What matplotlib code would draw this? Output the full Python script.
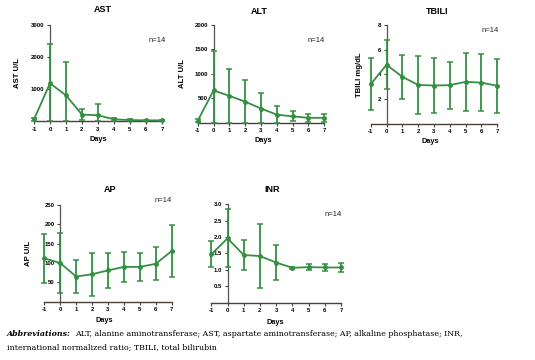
import matplotlib
matplotlib.use("Agg")
import matplotlib.pyplot as plt

plt.rcParams['font.family'] = ['Liberation Sans', 'DejaVu Sans']
plt.rcParams['axes.unicode_minus'] = False

days = [-1, 0, 1, 2, 3, 4, 5, 6, 7]

ast_mean = [50, 1180, 800, 200, 180, 50, 30, 20, 20]
ast_sd = [40, 1220, 1030, 175, 360, 40, 20, 15, 15]

alt_mean = [40, 660, 550, 430, 290, 165, 130, 100, 100]
alt_sd = [30, 810, 550, 440, 310, 175, 100, 80, 80]

tbili_mean = [3.2, 4.78, 3.8, 3.15, 3.1, 3.13, 3.4, 3.33, 3.08]
tbili_sd = [2.1, 2.0, 1.8, 2.35, 2.25, 1.9, 2.35, 2.3, 2.2]

ap_mean = [112, 100, 65, 71, 81, 90, 90, 98, 131]
ap_sd = [63, 77, 42, 56, 46, 39, 36, 43, 68]

inr_mean = [1.47, 1.96, 1.45, 1.42, 1.22, 1.06, 1.08, 1.07, 1.07]
inr_sd = [0.40, 0.89, 0.45, 0.97, 0.54, 0.03, 0.10, 0.12, 0.13]

W, H = 535, 360
GREEN = '#348f42'
AXC = '#4a4038'

fig = plt.figure(figsize=(W / 100, H / 100), dpi=100)
fig.patch.set_facecolor('white')


def px_axes(x0, x1, y0, y1):
    # x0/x1 pixel of day -1 / day 7, y0 pixel of zero, y1 pixel of top
    return fig.add_axes([x0 / W, 1 - y0 / H, (x1 - x0) / W, (y0 - y1) / H])


def panel(box, mean, sd, ymax, yticks, ylabel, ylab_x, title, tpos, npos, dpos):
    ax = px_axes(*box)
    # lower whisker stops at the x axis (values cannot go below zero)
    lo = [min(s, m) for m, s in zip(mean, sd)]
    ax.errorbar(days, mean, yerr=[lo, sd], color=GREEN, lw=1.3,
                elinewidth=1.3, capsize=2, capthick=1.1, marker='o', ms=2.5,
                zorder=3, clip_on=False)
    ax.set_xlim(-1, 7)
    ax.set_ylim(0, ymax)
    ax.set_xticks(days)
    ax.set_yticks(yticks)
    for s in ['top', 'right']:
        ax.spines[s].set_visible(False)
    ax.spines['left'].set_position(('data', 0))
    ax.spines['left'].set_color('#555555')
    ax.spines['bottom'].set_color(AXC)
    ax.spines['left'].set_linewidth(0.9)
    ax.spines['bottom'].set_linewidth(1.0)
    ax.tick_params(length=2.5, width=0.8, pad=1.5, labelsize=4.3, color='#444444')
    for lab in ax.get_xticklabels() + ax.get_yticklabels():
        lab.set_fontweight('bold')
    ax.patch.set_alpha(0)
    if ylabel:
        ax.set_ylabel(ylabel, fontsize=5.6, fontweight='bold', labelpad=0)
        ax.yaxis.set_label_coords(ylab_x, 0.5)
    fig.text(tpos[0] / W, 1 - tpos[1] / H, title, fontsize=6.5,
             fontweight='bold', ha='center', va='center')
    fig.text(npos[0] / W, 1 - npos[1] / H, 'n=14', fontsize=5.5,
             ha='center', va='center', color='#222222')
    fig.text(dpos[0] / W, 1 - dpos[1] / H, 'Days', fontsize=5.3,
             fontweight='bold', ha='center', va='center')
    return ax


panel((34, 162, 121, 25), ast_mean, ast_sd, 3000, [1000, 2000, 3000],
      'AST U/L', -0.10, 'AST', (103, 10), (157, 41), (98, 140))
panel((197.7, 324.3, 122.7, 25), alt_mean, alt_sd, 2000,
      [500, 1000, 1500, 2000], 'ALT U/L', -0.092, 'ALT', (259, 12),
      (316, 40), (263, 141))
panel((370.7, 497.3, 123.8, 25), tbili_mean, tbili_sd, 8, [2, 4, 6, 8],
      'TBILI mg/dL', -0.061, 'TBILI', (437, 12), (490, 30), (430, 142))
panel((44.3, 171.7, 301.7, 205), ap_mean, ap_sd, 250,
      [50, 100, 150, 200, 250], 'AP U/L', -0.097, 'AP', (110, 190),
      (163, 200), (104, 320))
panel((211.3, 341, 302.5, 204.3), inr_mean, inr_sd, 3.0,
      [0.5, 1.0, 1.5, 2.0, 2.5, 3.0], None, 0, 'INR', (272, 189),
      (333, 215), (275, 322))

# caption
serif = ['DejaVu Serif']
cap1 = ('ALT, alanine aminotransferase; AST, aspartate aminotransferase; '
        'AP, alkaline phosphatase; INR,')
cap2 = 'international normalized ratio; TBILI, total bilirubin'
t = fig.text(7 / W, 1 - 334 / H, 'Abbreviations:', family=serif,
             fontsize=5.7, fontweight='bold', style='italic', va='center')
r = fig.canvas.get_renderer()
bb = t.get_window_extent(renderer=r)
fig.text((bb.x1 + 4) / W, 1 - 334 / H, cap1, family=serif, fontsize=5.7,
         va='center')
fig.text(7 / W, 1 - 348 / H, cap2, family=serif, fontsize=5.7, va='center')

fig.savefig('out.png', dpi=100, facecolor='white')
